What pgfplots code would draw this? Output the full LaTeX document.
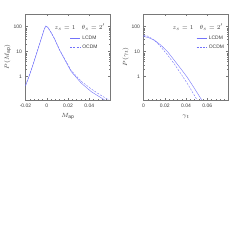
\documentclass[border=0pt]{standalone}
\usepackage{fontspec}
\setmainfont{Liberation Sans}
\usepackage{pgfplots}
\usepackage{pgfplotstable}
\pgfplotsset{compat=1.18}
\definecolor{cl}{RGB}{115,115,250}
\definecolor{ax}{RGB}{120,120,120}
\definecolor{tx}{RGB}{60,60,60}
\tikzset{
  lc/.style={color=cl, line width=0.4pt},
  oc/.style={color=cl, line width=0.4pt, dash pattern=on 2pt off 1.3pt},
}
\pgfplotsset{
  legend image code/.code={\draw[#1] (0pt,0pt) -- (10pt,0pt);},
  myax/.style={
    scale only axis, width=85pt, height=86pt,
    ymin=0.117, ymax=316,
    ytick={1,10,100}, yticklabels={1,10,100},
    scaled x ticks=false,
    axis line style={ax, line width=0.4pt},
    tick style={ax, line width=0.3pt},
    major tick length=2.5pt, minor tick length=1.3pt,
    tick align=inside,
    minor x tick num=4,
    ticklabel style={font=\fontsize{5}{6}\selectfont, text=tx},
    label style={font=\fontsize{6}{7}\selectfont, text=tx},
    xlabel style={at={(axis description cs:0.5,-0.19)}, anchor=center},
    ylabel style={at={(axis description cs:-0.21,0.5)}, anchor=center},
    legend style={draw=none, fill=none, font=\fontsize{5}{6}\selectfont, text=tx,
      anchor=north west, inner sep=0pt, row sep=0pt},
    legend image post style={color=cl},
    legend cell align=left,
  },
}
\pgfplotstableread{
x y
-0.0200 0.42
-0.0165 1.07
-0.0135 2.5
-0.0105 6.3
-0.0075 16
-0.0045 40
-0.0025 75
-0.0010 105
0.0010 94
0.0045 54
0.0075 31
0.0120 11.7
0.0170 4.7
0.0230 1.6
0.0325 0.55
0.0420 0.25
0.0545 0.117
}\lcdmM
\pgfplotstableread{
x y
-0.0200 0.45
-0.0165 1.1
-0.0135 2.6
-0.0105 6.4
-0.0075 16
-0.0045 40
-0.0025 74
-0.0010 102
0.0010 92
0.0045 54
0.0075 31
0.0120 12
0.0170 5.0
0.0230 1.75
0.0325 0.65
0.0420 0.32
0.0500 0.19
0.0585 0.117
}\ocdmM
\pgfplotstableread{
x y
0.000 40
0.004 37
0.010 29
0.016 18.6
0.0226 10
0.0288 4.6
0.0350 2.1
0.0412 0.94
0.0474 0.37
0.0548 0.117
}\lcdmG
\pgfplotstableread{
x y
0.000 43
0.002 44
0.004 41
0.008 33
0.012 24
0.016 16
0.0226 7.4
0.0288 3.3
0.0350 1.35
0.0412 0.54
0.0505 0.117
}\ocdmG
\begin{document}
\begin{tikzpicture}
\path[use as bounding box] (0pt,0pt) rectangle (242pt,242pt);
\begin{semilogyaxis}[myax, at={(25.5pt,142pt)}, anchor=south west,
  xmin=-0.02, xmax=0.06,
  xtick={-0.02,0,0.02,0.04,0.06}, xticklabels={-0.02,0,0.02,0.04,},
  xlabel={$M_{\rm ap}$}, ylabel={$P(M_{\rm ap})$},
  legend style={at={(rel axis cs:0.52,0.77)}}]
\addplot[lc] table[x=x,y=y] {\lcdmM};
\addlegendentry{LCDM}
\addplot[oc] table[x=x,y=y] {\ocdmM};
\addlegendentry{OCDM}
\node[font=\fontsize{6}{7}\selectfont, text=tx] at (rel axis cs:0.64,0.85) {$z_s=1$\quad$\theta_s=2'$};
\end{semilogyaxis}
\begin{semilogyaxis}[myax, at={(143.5pt,142pt)}, anchor=south west,
  xmin=0, xmax=0.08,
  xtick={0,0.02,0.04,0.06,0.08}, xticklabels={0,0.02,0.04,0.06,},
  xlabel={$\gamma_t$}, ylabel={$P(\gamma_t)$},
  legend style={at={(rel axis cs:0.62,0.77)}}]
\addplot[lc] table[x=x,y=y] {\lcdmG};
\addlegendentry{LCDM}
\addplot[oc] table[x=x,y=y] {\ocdmG};
\addlegendentry{OCDM}
\node[font=\fontsize{6}{7}\selectfont, text=tx] at (rel axis cs:0.64,0.85) {$z_s=1$\quad$\theta_s=2'$};
\end{semilogyaxis}
\end{tikzpicture}
\end{document}
